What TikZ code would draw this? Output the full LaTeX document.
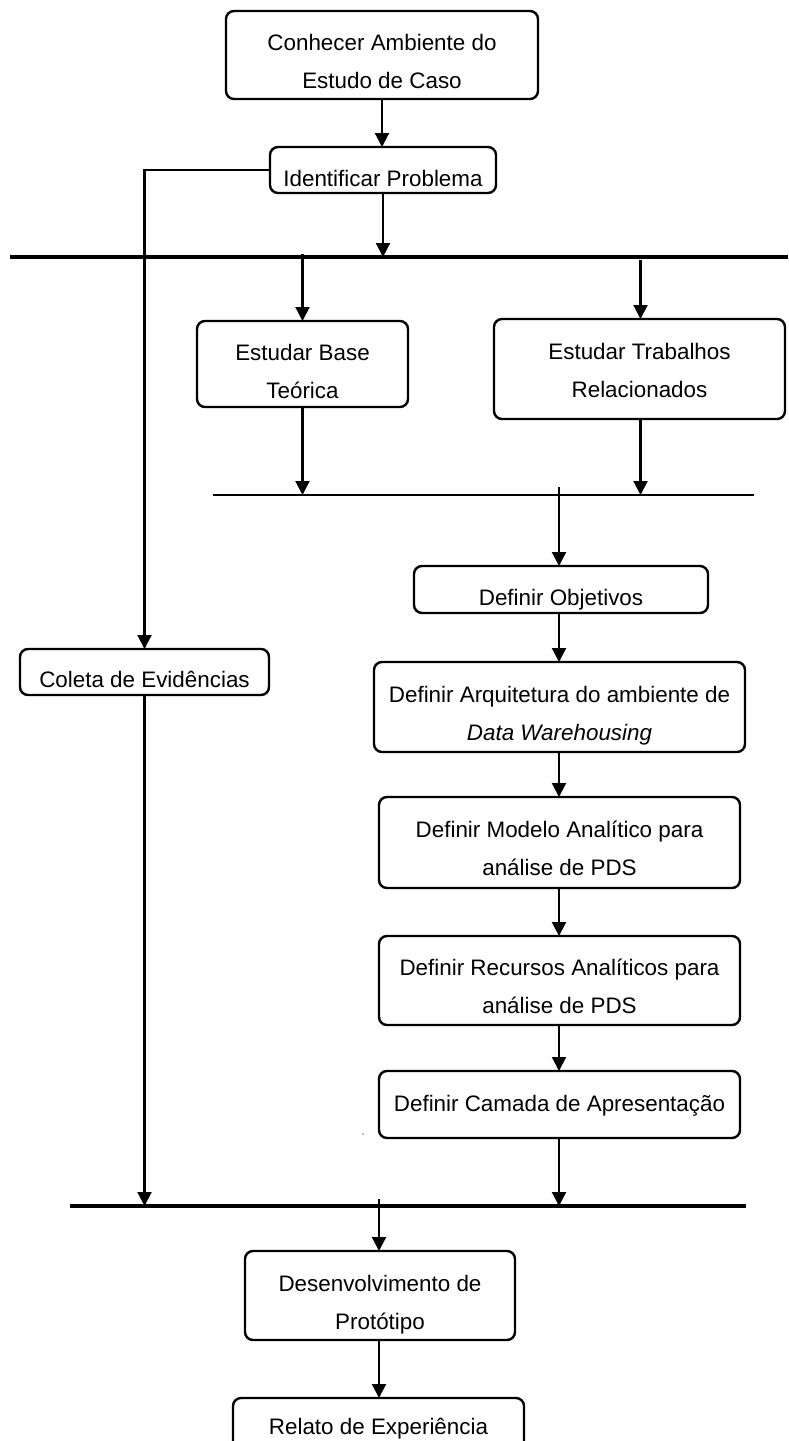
\documentclass[tikz,border=0pt]{standalone}
\usepackage{fontspec}
\setmainfont{Liberation Sans}
\usetikzlibrary{arrows.meta}
% centred lines whose baseline is that of the first line
\newcommand\steptext[1]{\begin{tabular}[t]{@{}c@{}}#1\end{tabular}}
\begin{document}
\begin{tikzpicture}[x=1pt,y=-1pt,
  stepbox/.style={draw, line width=2.4pt, rounded corners=8pt, inner sep=0pt,
    outer sep=0pt, anchor=north west},
  lbl/.style={anchor=base, inner sep=0pt, font=\fontsize{22.4}{38}\selectfont},
  arr/.style={line width=2.1pt, -{Triangle[length=14pt,width=14pt]}},
  thickbar/.style={line width=4pt},
  thinbar/.style={line width=2.2pt}]
\path[use as bounding box, clip] (0,0) rectangle (788,1441);

% process steps
\node[stepbox, minimum width=312pt, minimum height=88pt] (b1) at (226,11) {};
\node[stepbox, minimum width=226pt, minimum height=46pt] (b2) at (270,147) {};
\node[stepbox, minimum width=211pt, minimum height=86pt] (b3) at (197,321) {};
\node[stepbox, minimum width=291pt, minimum height=100pt] (b4) at (494,319) {};
\node[stepbox, minimum width=294pt, minimum height=47pt] (b5) at (414,566) {};
\node[stepbox, minimum width=371pt, minimum height=90pt] (b6) at (374,662) {};
\node[stepbox, minimum width=361pt, minimum height=91pt] (b7) at (379,797) {};
\node[stepbox, minimum width=361pt, minimum height=89pt] (b8) at (379,936) {};
\node[stepbox, minimum width=361pt, minimum height=67pt] (b9) at (379,1071) {};
\node[stepbox, minimum width=249pt, minimum height=46pt] (b10) at (20,649) {};
\node[stepbox, minimum width=270pt, minimum height=89pt] (b11) at (245,1251) {};
\node[stepbox, minimum width=291pt, minimum height=90pt] (b12) at (233,1398) {};

% step labels (first baseline about 39.5pt below the box top)
\node[lbl] (t1) at ([yshift=-39.5pt]b1.north) {\steptext{Conhecer Ambiente do\\Estudo de Caso}};
\node[lbl] (t2) at ([yshift=-39.5pt]b2.north) {\steptext{Identificar Problema}};
\node[lbl] (t3) at ([yshift=-39.5pt]b3.north) {\steptext{Estudar Base\\Teórica}};
\node[lbl] (t4) at ([yshift=-40.5pt]b4.north) {\steptext{Estudar Trabalhos\\Relacionados}};
\node[lbl] (t5) at ([yshift=-39pt]b5.north) {\steptext{Definir Objetivos}};
\node[lbl] (t6) at ([yshift=-40.5pt]b6.north) {\steptext{Definir Arquitetura do ambiente de\\\itshape Data Warehousing}};
\node[lbl] (t7) at ([yshift=-40.5pt]b7.north) {\steptext{Definir Modelo Analítico para\\análise de PDS}};
\node[lbl] (t8) at ([yshift=-39pt]b8.north) {\steptext{Definir Recursos Analíticos para\\análise de PDS}};
\node[lbl] (t9) at ([yshift=-40pt]b9.north) {\steptext{Definir Camada de Apresentação}};
\node[lbl] (t10) at ([yshift=-38pt]b10.north) {\steptext{Coleta de Evidências}};
\node[lbl] (t11) at ([yshift=-40pt]b11.north) {\steptext{Desenvolvimento de\\Protótipo}};
\node[lbl] (t12) at ([yshift=-36pt]b12.north) {\steptext{Relato de Experiência}};

% synchronisation bars
\coordinate (bar1w) at (10,257);
\coordinate (bar1e) at (788,257);
\coordinate (bar2w) at (213,495);
\coordinate (bar2e) at (754,495);
\coordinate (bar3w) at (70,1206);
\coordinate (bar3e) at (746,1206);
\draw[thickbar] (bar1w) -- (bar1e);
\draw[thinbar] (bar2w) -- (bar2e);
\draw[thickbar] (bar3w) -- (bar3e);

% branch starts on the bars
\coordinate (f1) at (302.5,254);
\coordinate (f2) at (640.5,260);
\coordinate (f3) at (559,487);
\coordinate (f4) at (379,1199);

% connectors
\draw[arr] (b1.south) -- (b1.south |- b2.north);
\draw[arr] (b2.south) -- (b2.south |- bar1w);
\draw[arr] (b2.west) -| (b10.north);
\draw[arr] (f1) -- (f1 |- b3.north);
\draw[arr] (f2) -- (f2 |- b4.north);
\draw[arr] (b3.south) -- (b3.south |- bar2w);
\draw[arr] (f2 |- b4.south) -- (f2 |- bar2w);
\draw[arr] (f3) -- (f3 |- b5.north);
\draw[arr] (f3 |- b5.south) -- (f3 |- b6.north);
\draw[arr] (f3 |- b6.south) -- (f3 |- b7.north);
\draw[arr] (f3 |- b7.south) -- (f3 |- b8.north);
\draw[arr] (f3 |- b8.south) -- (f3 |- b9.north);
\draw[arr] (f3 |- b9.south) -- (f3 |- bar3w);
\draw[arr] (b10.south) -- (b10.south |- bar3w);
\draw[arr] (f4) -- (f4 |- b11.north);
\draw[arr] (f4 |- b11.south) -- (f4 |- b12.north);

% small grey speck
\fill[gray] (363,1134) circle (0.9pt);
\end{tikzpicture}
\end{document}
